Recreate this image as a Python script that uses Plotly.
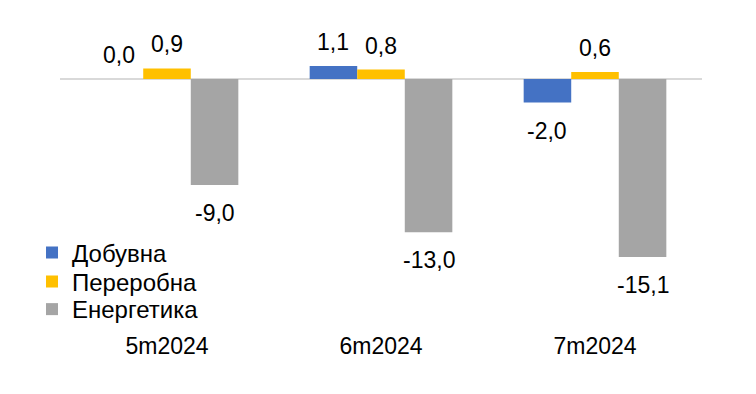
import plotly.graph_objects as go

# Periods and year-on-year changes by industry segment
periods = ["5m2024", "6m2024", "7m2024"]
series_names = ["Добувна", "Переробна", "Енергетика"]
dobuvna = [0.0, 1.1, -2.0]
pererobna = [0.9, 0.8, 0.6]
energetyka = [-9.0, -13.0, -15.1]
colors = ["#4472C4", "#FFC000", "#A5A5A5"]

series_values = [dobuvna, pererobna, energetyka]

FONT = "Arial, Liberation Sans, sans-serif"
BARGAP = 1 / 3

# One legend per series so the rows can be spaced tightly
legend_ids = ["legend", "legend2", "legend3"]
legend_y = [0.241, 0.15, 0.064]

fig = go.Figure()
for name, vals, col, lid in zip(series_names, series_values, colors, legend_ids):
    fig.add_trace(go.Bar(
        name=name, x=periods, y=vals, legend=lid,
        marker=dict(color=col, line=dict(width=0)),
    ))

# Value labels placed just beyond the end of each bar
n = len(series_values)
bar_w = (1 - BARGAP) / n
for si, vals in enumerate(series_values):
    offset = (si - (n - 1) / 2) * bar_w
    for ci, v in enumerate(vals):
        fig.add_annotation(
            x=ci + offset, y=v, xref="x", yref="y",
            text=f"{v:.1f}".replace(".", ","),
            showarrow=False, yanchor="middle",
            yshift=24 if v >= 0 else -28,
            font=dict(family=FONT, size=23, color="#000000"),
        )

legend_style = dict(
    x=-0.0436, xanchor="left", yanchor="middle",
    bgcolor="rgba(0,0,0,0)", borderwidth=0,
    font=dict(family=FONT, size=24, color="#000000"),
)

fig.update_layout(
    width=756, height=394,
    margin=dict(l=60, r=54, t=10, b=64),
    paper_bgcolor="white", plot_bgcolor="white",
    barmode="group", bargap=BARGAP, bargroupgap=0,
    font=dict(family=FONT, size=23, color="#000000"),
    showlegend=True,
    legend=dict(y=legend_y[0], **legend_style),
    legend2=dict(y=legend_y[1], **legend_style),
    legend3=dict(y=legend_y[2], **legend_style),
)
fig.update_xaxes(
    type="category", showgrid=False, showline=False, ticks="",
    tickfont=dict(family=FONT, size=23, color="#000000"),
)
fig.update_yaxes(
    range=[-21.307, 5.857], showgrid=False, showticklabels=False,
    zeroline=True, zerolinecolor="#D9D9D9", zerolinewidth=1.5,
    showline=False, ticks="",
)

fig.write_html("out.html")
